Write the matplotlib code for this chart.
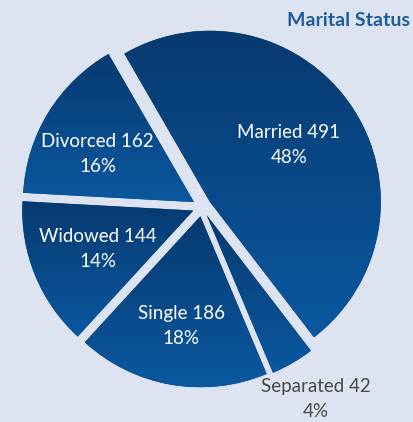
import numpy as np
import matplotlib
matplotlib.use("Agg")
import matplotlib.pyplot as plt
from matplotlib.colors import LinearSegmentedColormap

# ---- data ----
categories = ["Married", "Separated", "Single", "Widowed", "Divorced"]
counts = [491, 42, 186, 144, 162]
percents = ["48%", "4%", "18%", "14%", "16%"]
title = "Marital Status"

# ---- style / layout ----
BG = "#dde3f0"
label_dist = [0.57, 1.25, 0.65, 0.60, 0.63]
label_shift = [2, 0.5, 0, 0, 5]   # degrees
label_colors = ["white", "#4a4a4a", "white", "white", "white"]
W, H = 414, 422
cx, cy, R = 202, 207, 171  # pie centre and radius in pixels

fig = plt.figure(figsize=(W / 100, H / 100), dpi=100, facecolor=BG)
ax = fig.add_axes([0, 0, 1, 1])
ax.set_facecolor(BG)
ax.axis("off")

explode = [0.055] * len(counts)
wedges, _ = ax.pie(counts, startangle=120, counterclock=False, explode=explode,
                   radius=1.0, colors=["#094a88"] * len(counts),
                   wedgeprops=dict(linewidth=0))

cmap = LinearSegmentedColormap.from_list("g", ["#073a70", "#0a58a0"])
grad = np.linspace(0, 1, 256).reshape(-1, 1)
for w in wedges:
    ext = w.get_path().get_extents()
    im = ax.imshow(grad, cmap=cmap, extent=[ext.x0, ext.x1, ext.y0, ext.y1],
                   origin="upper", aspect="auto", zorder=2, interpolation="bilinear")
    im.set_clip_path(w)
ax.set_xlim(-cx / R, (W - cx) / R)
ax.set_ylim(-(H - cy) / R, cy / R)
ax.set_aspect("equal")

for w, cat, n, p, d, s, c in zip(wedges, categories, counts, percents,
                                 label_dist, label_shift, label_colors):
    mid = np.deg2rad((w.theta1 + w.theta2) / 2 + s)
    x = w.center[0] + d * np.cos(mid)
    y = w.center[1] + d * np.sin(mid)
    ax.text(x, y, f"{cat} {n}\n{p}", ha="center", va="center", color=c,
            fontsize=13.5, family="Lato", linespacing=1.6, zorder=5)

fig.text(0.99, 0.952, title, ha="right", va="center", color="#1e5c9c",
         fontsize=14, family="Lato", fontweight="bold")

fig.savefig("out.png", dpi=100, facecolor=BG)
